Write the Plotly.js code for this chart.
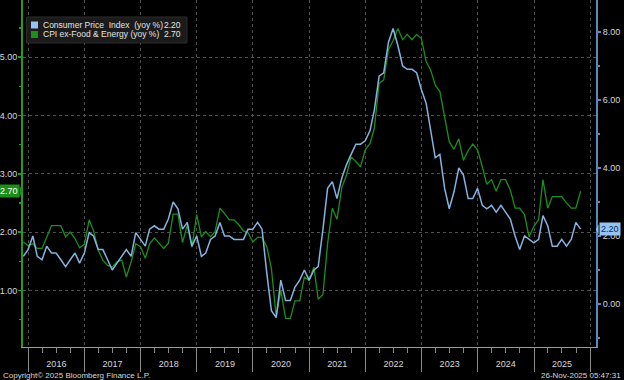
<!DOCTYPE html>
<html>
<head>
<meta charset="utf-8">
<script src="https://cdn.plot.ly/plotly-3.0.1.min.js"></script>
<style>
html,body{margin:0;padding:0;background:#000;}
#chart{width:624px;height:380px;}
</style>
</head>
<body>
<div id="chart"></div>
<script>
// ---- data (monthly, first value = Nov 2015, plotted at month end) ----
const startYear = 2015;
const startMonth = 11;

// Consumer Price Index (yoy %) -> right axis
const cpiHeadline = [
  1.4, 1.6,
  2.0, 1.4, 1.3, 1.7, 1.5, 1.5, 1.3, 1.1, 1.3, 1.5, 1.2, 1.5,
  2.1, 2.0, 1.6, 1.6, 1.3, 1.0, 1.2, 1.4, 1.6, 1.4, 2.1, 1.9,
  1.7, 2.2, 2.3, 2.2, 2.2, 2.5, 3.0, 2.8, 2.2, 2.4, 1.7, 2.0,
  1.4, 1.5, 1.9, 2.0, 2.4, 2.0, 2.0, 1.9, 1.9, 1.9, 2.2, 2.2,
  2.4, 2.2, 0.9, -0.2, -0.4, 0.7, 0.1, 0.1, 0.5, 0.7, 1.0, 0.7,
  1.0, 1.1, 2.2, 3.4, 3.6, 3.1, 3.7, 4.1, 4.4, 4.7, 4.7, 4.8,
  5.1, 5.7, 6.7, 6.8, 7.7, 8.1, 7.6, 7.0, 6.9, 6.9, 6.8, 6.3,
  5.9, 5.2, 4.3, 4.4, 3.4, 2.8, 3.3, 4.0, 3.8, 3.1, 3.1, 3.4,
  2.9, 2.8, 2.9, 2.7, 2.9, 2.7, 2.5, 2.0, 1.6, 2.0, 1.9, 1.8,
  1.9, 2.6, 2.3, 1.7, 1.7, 1.9, 1.7, 1.9, 2.4, 2.2
];

// CPI ex-Food & Energy (yoy %) -> left axis
const cpiCore = [
  1.83, 1.77,
  1.80, 1.72, 1.72, 1.92, 2.11, 2.11, 2.11, 1.92, 2.00, 1.89, 1.73, 1.79,
  2.21, 2.03, 1.69, 1.52, 1.43, 1.40, 1.49, 1.52, 1.23, 1.49, 1.80, 1.75,
  1.55, 1.80, 1.90, 1.81, 1.72, 1.81, 2.31, 2.31, 1.82, 2.12, 1.74, 2.30,
  1.92, 2.01, 1.92, 2.01, 2.41, 2.32, 2.21, 2.21, 2.13, 2.02, 1.99, 1.83,
  1.91, 1.91, 1.75, 1.37, 0.55, 1.00, 0.52, 0.52, 0.82, 0.82, 1.23, 1.17,
  1.40, 0.85, 0.93, 1.80, 2.41, 2.22, 2.76, 2.98, 3.29, 3.21, 3.12, 3.41,
  3.52, 3.78, 4.55, 4.61, 5.13, 5.28, 5.49, 5.30, 5.39, 5.30, 5.39, 5.32,
  4.92, 4.79, 4.52, 4.41, 3.98, 3.55, 3.42, 3.60, 3.23, 3.40, 3.51, 3.41,
  3.12, 2.82, 2.90, 2.70, 2.90, 2.90, 2.72, 2.41, 2.41, 2.30, 1.92, 2.10,
  2.21, 2.90, 2.41, 2.61, 2.61, 2.61, 2.50, 2.41, 2.41, 2.70
];

const seriesNames = ['Consumer Price\u00a0 Index\u00a0 (yoy %)', 'CPI ex-Food & Energy (yoy %)'];
const footerLeft = 'Copyright\u00a9 2025 Bloomberg Finance L.P.';
const footerRight = '26-Nov-2025 05:47:31';

// ---- styling ----
const FONT = "'Liberation Sans', Arial, sans-serif";
const BLUE = '#86b2e0';
const BLUE_FLAG = '#93c3f3';
const BLUE_AXIS = '#5b88bd';
const GREEN = '#1c8e1c';
const GREEN_AXIS = '#239a23';
const TXT = '#d8d8d8';
const FS = 9;

function monthEnd(i) {
  const d = new Date(Date.UTC(startYear, startMonth - 1 + i + 1, 0));
  return d.toISOString().slice(0, 10);
}
const dates = cpiHeadline.map((_, i) => monthEnd(i));

const M = {l: 23, r: 28, t: 0, b: 33};
const W = 624, H = 380;
const PW = W - M.l - M.r, PH = H - M.t - M.b;
const px = x => (x - M.l) / PW;
const py = y => (PH + M.t - y) / PH;

const lastHead = cpiHeadline[cpiHeadline.length - 1];
const lastCore = cpiCore[cpiCore.length - 1];

const yRange = [0.03, 5.98];
const y2Range = [-1.265, 8.94];
const yUnitPx = PH / (yRange[1] - yRange[0]);
const y2UnitPx = PH / (y2Range[1] - y2Range[0]);

const traces = [
  {x: dates, y: cpiCore, yaxis: 'y', type: 'scatter', mode: 'lines',
   line: {color: GREEN, width: 1.3}, hoverinfo: 'skip'},
  {x: dates, y: cpiHeadline, yaxis: 'y2', type: 'scatter', mode: 'lines',
   line: {color: BLUE, width: 1.5}, hoverinfo: 'skip'}
];

const shapes = [
  // legend box
  {type: 'rect', xref: 'paper', yref: 'paper', x0: px(26.5), x1: px(187), y0: py(43), y1: py(17),
   fillcolor: '#1b1b1b', line: {color: '#2c2c2c', width: 1}, layer: 'above'},
  {type: 'rect', xref: 'paper', yref: 'paper', x0: px(31), x1: px(38), y0: py(28.5), y1: py(21.5),
   fillcolor: BLUE_FLAG, line: {width: 0}, layer: 'above'},
  {type: 'rect', xref: 'paper', yref: 'paper', x0: px(31), x1: px(38), y0: py(38), y1: py(31),
   fillcolor: GREEN, line: {width: 0}, layer: 'above'},
  // left flag arrow
  {type: 'path', xref: 'paper', yref: 'y', layer: 'above',
   path: `M ${px(19.5)},${lastCore + 6/yUnitPx} L ${px(22.5)},${lastCore} L ${px(19.5)},${lastCore - 6/yUnitPx} Z`,
   fillcolor: GREEN, line: {width: 0}},
  // right flag arrow
  {type: 'path', xref: 'paper', yref: 'y2', layer: 'above',
   path: `M ${px(598.5)},${lastHead + 5/y2UnitPx} L ${px(596)},${lastHead} L ${px(598.5)},${lastHead - 5/y2UnitPx} Z`,
   fillcolor: BLUE_FLAG, line: {width: 0}}
];

const annotations = [
  {xref: 'paper', yref: 'paper', x: px(40.5), y: py(25), xanchor: 'left', yanchor: 'middle', showarrow: false,
   text: seriesNames[0], font: {family: FONT, size: 8.5, color: '#e4e4e4'}},
  {xref: 'paper', yref: 'paper', x: px(40.5), y: py(34.5), xanchor: 'left', yanchor: 'middle', showarrow: false,
   text: seriesNames[1], font: {family: FONT, size: 8.5, color: '#e4e4e4'}},
  {xref: 'paper', yref: 'paper', x: px(182.5), y: py(25), xanchor: 'right', yanchor: 'middle', showarrow: false,
   text: lastHead.toFixed(2), font: {family: FONT, size: 8.5, color: '#e4e4e4'}},
  {xref: 'paper', yref: 'paper', x: px(182.5), y: py(34.5), xanchor: 'right', yanchor: 'middle', showarrow: false,
   text: lastCore.toFixed(2), font: {family: FONT, size: 8.5, color: '#e4e4e4'}},
  // value flags
  {xref: 'paper', yref: 'y', x: px(19.5), y: lastCore, xanchor: 'right', yanchor: 'middle', showarrow: false,
   text: lastCore.toFixed(2), bgcolor: GREEN, borderpad: 1,
   font: {family: FONT, size: FS, color: '#ffffff'}},
  {xref: 'paper', yref: 'y2', x: px(598.5), y: lastHead, xanchor: 'left', yanchor: 'middle', showarrow: false,
   text: lastHead.toFixed(2), bgcolor: BLUE_FLAG, borderpad: 1,
   font: {family: FONT, size: FS, color: '#102a4a'}},
  // footer
  {xref: 'paper', yref: 'paper', x: px(1), y: py(375), xanchor: 'left', yanchor: 'middle', showarrow: false,
   text: footerLeft, font: {family: FONT, size: 8, color: TXT}},
  {xref: 'paper', yref: 'paper', x: px(623), y: py(375), xanchor: 'right', yanchor: 'middle', showarrow: false,
   text: footerRight, font: {family: FONT, size: 8, color: TXT}}
];

const layout = {
  width: W, height: H,
  margin: {l: M.l, r: M.r, t: M.t, b: M.b, pad: 0},
  paper_bgcolor: '#000000', plot_bgcolor: '#000000',
  showlegend: false,
  font: {family: FONT, size: FS, color: TXT},
  xaxis: {
    type: 'date', range: ['2015-11-28', '2026-02-08'],
    tick0: '2016-01-01', dtick: 'M12', tickformat: '%Y', ticklabelmode: 'period',
    ticks: 'outside', ticklen: 24, tickwidth: 1, tickcolor: '#8a8a8a',
    ticklabelstandoff: -16,
    showline: true, linecolor: '#9a9a9a', linewidth: 1,
    showgrid: true, gridcolor: '#4e4e4e', griddash: 'dot', gridwidth: 1,
    zeroline: false,
    tickfont: {family: FONT, size: FS, color: TXT},
    minor: {dtick: 'M3', ticks: 'outside', ticklen: 5, tickcolor: '#8a8a8a', showgrid: false}
  },
  yaxis: {
    range: yRange, tick0: 0, dtick: 1, tickformat: '.2f',
    ticks: 'outside', ticklen: 3, tickwidth: 1.5, tickcolor: GREEN_AXIS,
    ticklabelstandoff: -1,
    showline: true, linecolor: GREEN_AXIS, linewidth: 2,
    showgrid: true, gridcolor: '#4e4e4e', griddash: 'dot', gridwidth: 1,
    zeroline: false,
    tickfont: {family: FONT, size: FS, color: TXT},
    minor: {dtick: 0.5, ticks: 'outside', ticklen: 2, tickcolor: GREEN_AXIS, showgrid: false}
  },
  yaxis2: {
    overlaying: 'y', side: 'right',
    range: y2Range, tick0: 0, dtick: 2, tickformat: '.2f',
    ticks: 'outside', ticklen: 3, tickwidth: 1.5, tickcolor: BLUE_AXIS,
    showline: true, linecolor: BLUE_AXIS, linewidth: 2,
    showgrid: false, zeroline: false,
    tickfont: {family: FONT, size: FS, color: TXT},
    minor: {dtick: 1, ticks: 'outside', ticklen: 2, tickcolor: BLUE_AXIS, showgrid: false}
  },
  shapes: shapes,
  annotations: annotations
};

Plotly.newPlot('chart', traces, layout, {displayModeBar: false, staticPlot: true});
</script>
</body>
</html>
